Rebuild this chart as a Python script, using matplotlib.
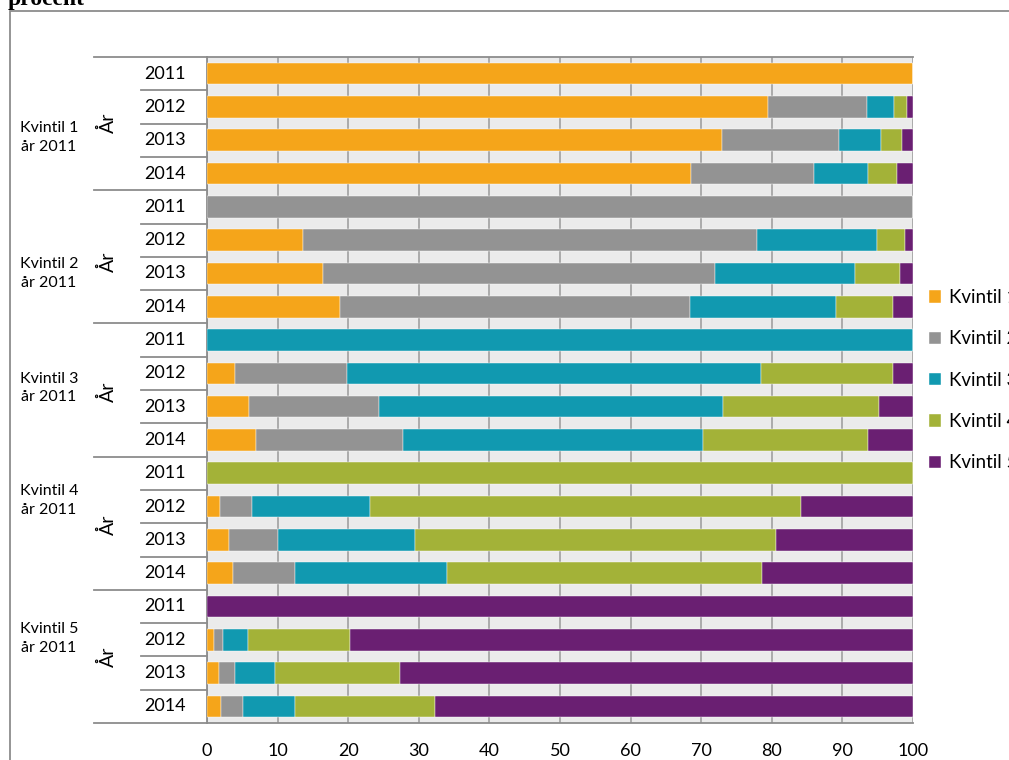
import matplotlib.pyplot as plt
import numpy as np
from matplotlib.lines import Line2D
from matplotlib.patches import Rectangle

plt.rcParams['font.family'] = ['Lato', 'DejaVu Sans']

groups = ['Kvintil 1\når 2011', 'Kvintil 2\når 2011', 'Kvintil 3\når 2011',
          'Kvintil 4\når 2011', 'Kvintil 5\når 2011']
years = ['2011', '2012', '2013', '2014']
series = ['Kvintil 1', 'Kvintil 2', 'Kvintil 3', 'Kvintil 4', 'Kvintil 5']
colors = ['#F5A51A', '#939393', '#1199B0', '#A3B238', '#6A1F72']

# share (%) per row, rows ordered group by group, year 2011..2014
q1 = [100, 79.4, 72.9, 68.5, 0, 13.6, 16.4, 18.8, 0, 3.9, 6.0, 6.9, 0, 1.9, 3.1, 3.7, 0, 1.0, 1.7, 2.0]
q2 = [0, 14.1, 16.6, 17.5, 100, 64.3, 55.5, 49.6, 0, 15.9, 18.4, 20.9, 0, 4.5, 7.0, 8.7, 0, 1.3, 2.3, 3.1]
q3 = [0, 3.8, 6.0, 7.6, 0, 17.0, 19.9, 20.7, 100, 58.6, 48.7, 42.5, 0, 16.7, 19.3, 21.6, 0, 3.5, 5.7, 7.4]
q4 = [0, 1.8, 2.9, 4.2, 0, 3.9, 6.3, 8.1, 0, 18.7, 22.1, 23.3, 100, 61.1, 51.2, 44.6, 0, 14.5, 17.6, 19.8]
q5 = [0, 0.9, 1.6, 2.2, 0, 1.2, 1.9, 2.8, 0, 2.9, 4.8, 6.4, 0, 15.8, 19.4, 21.4, 100, 79.7, 72.7, 67.7]
data = [q1, q2, q3, q4, q5]

# label positions (row units) as placed in the original
group_label_y = [1.93, 5.99, 9.44, 12.83, 16.95]
ar_label_y = [1.48, 5.66, 9.56, 13.55, 17.5]

W, H = 1009, 760
fig = plt.figure(figsize=(W / 100, H / 100), dpi=100)
ax = fig.add_axes([207 / W, 1 - 723 / H, 706 / W, 666 / H])

n = len(q1)
y = np.arange(n)
left = np.zeros(n)
for vals, name, c in zip(data, series, colors):
    ax.barh(y, vals, left=left, height=0.65, color=c, label=name,
            edgecolor='white', linewidth=0.3, zorder=3)
    left += np.array(vals)

ax.set_facecolor('#EBEBEB')
ax.set_xlim(0, 100)
ax.set_ylim(n - 0.5, -0.5)
ax.set_xticks(np.arange(0, 101, 10))
ax.xaxis.grid(True, color='#999999', linewidth=1.1, zorder=1)
ax.set_axisbelow(True)
ax.set_yticks([])
ax.tick_params(axis='x', length=0, labelsize=13, pad=14.5, colors='black')
for s in ['left', 'bottom', 'top']:
    ax.spines[s].set_color('#8C8C8C')
    ax.spines[s].set_linewidth(1.3)
ax.spines['right'].set_visible(False)

# category table on the left
trans = ax.get_yaxis_transform()
x_group = (94 - 207) / 706
x_year = (141 - 207) / 706
for i in range(n + 1):
    x0 = x_group if i % 4 == 0 else x_year
    ax.add_line(Line2D([x0, 0], [i - 0.5, i - 0.5], transform=trans,
                       color='#8C8C8C', linewidth=1.3, clip_on=False))
for i in range(n):
    ax.text((165 - 207) / 706, i, years[i % 4], transform=trans,
            ha='center', va='center', fontsize=13)
for g in range(len(groups)):
    ax.text((108 - 207) / 706, ar_label_y[g], 'År', transform=trans,
            ha='center', va='center', fontsize=14, rotation=90)
    ax.text((49 - 207) / 706, group_label_y[g], groups[g], transform=trans,
            ha='center', va='center', fontsize=11.5, linespacing=1.45)

# outer chart border
fig.patches.append(Rectangle((9.5 / W, -0.1), 1.2, 1 - 11 / H + 0.1,
                             transform=fig.transFigure, fill=False,
                             edgecolor='#8C8C8C', linewidth=1.3))

fig.text(8 / W, 1 - 5 / H, 'procent', ha='left', va='baseline',
         fontsize=17, fontweight='bold', family='Liberation Serif')

ax.legend(loc='upper left', bbox_to_anchor=(929 / W, 1 - 289 / H),
          bbox_transform=fig.transFigure, frameon=False, fontsize=13.5,
          handlelength=0.65, handleheight=0.65, handletextpad=0.4,
          labelspacing=1.3, borderaxespad=0, borderpad=0)

fig.savefig('out.png', dpi=100)
